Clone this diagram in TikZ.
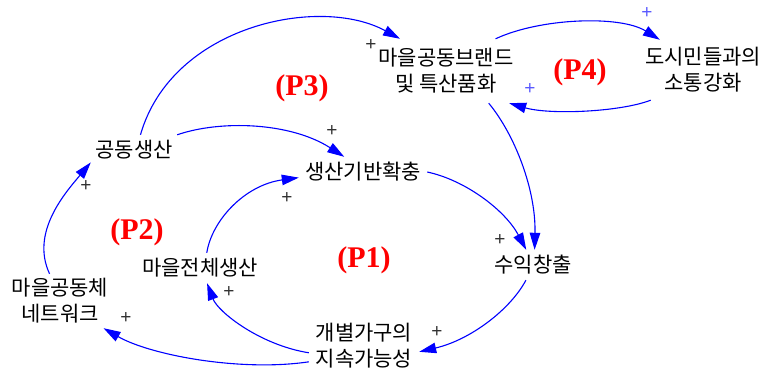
\documentclass[tikz,border=0pt]{standalone}
\usepackage{fontspec}
\setmainfont{Noto Sans CJK KR}
\newfontfamily\pfont{Liberation Serif}
\newfontfamily\plusfont{Liberation Sans}
\usetikzlibrary{arrows.meta}
\definecolor{arrblue}{RGB}{0,0,255}
\definecolor{plusgray}{RGB}{50,50,50}
\definecolor{plusblue}{RGB}{90,90,255}
\definecolor{loopred}{RGB}{255,0,0}
\begin{document}
\begin{tikzpicture}[x=1pt,y=-1pt,
  var/.style={inner sep=0pt, align=center, font=\fontsize{21}{26}\selectfont, text=black},
  link/.style={draw=arrblue, line width=1.1pt, -{Triangle[length=17pt,width=10.5pt]}},
  pol/.style={font=\plusfont\fontsize{19}{19}\selectfont, text=plusgray, inner sep=0pt},
  polb/.style={pol, text=plusblue},
  loopname/.style={font=\pfont\bfseries\fontsize{30}{30}\selectfont, text=loopred, inner sep=0pt}]
\useasboundingbox (0,0) rectangle (767,374);

\node[var, minimum width=150pt, minimum height=64pt] (brand) at (446,71) {마을공동브랜드\\및 특산품화};
\node[var, minimum width=128pt, minimum height=60pt] (citizen) at (703,70) {도시민들과의\\소통강화};
\node[var, minimum width=86pt, minimum height=30pt] (gongdong) at (134,150) {공동생산};
\node[var, minimum width=128pt, minimum height=30pt] (base) at (363,172) {생산기반확충};
\node[var, minimum width=86pt, minimum height=30pt] (revenue) at (533,265) {수익창출};
\node[var, minimum width=128pt, minimum height=30pt] (village) at (200,268) {마을전체생산};
\node[var, minimum width=106pt, minimum height=54pt] (network) at (60,301) {마을공동체\\네트워크};
\node[var, minimum width=110pt, minimum height=56pt] (household) at (364,346) {개별가구의\\지속가능성};

\draw[link] (gongdong.67) .. controls (172,25) and (320,-5) .. (brand.145);
\draw[link] (gongdong.north east) .. controls (220,120) and (290,122) .. (base.141);
\draw[link] (network.111) .. controls (30,232) and (66,192) .. (gongdong.196);
\draw[link] (village.66) .. controls (212,220) and (245,185) .. (base.185);
\draw[link] (household.187) .. controls (260,345) and (218,312) .. (village.295);
\draw[link] (household.196) .. controls (240,372) and (150,355) .. (network.328);
\draw[link] (base.east) .. controls (465,180) and (505,210) .. (revenue.114);
\draw[link] (brand.323) .. controls (515,135) and (536,190) .. (revenue.84);
\draw[link] (revenue.245) .. controls (510,310) and (470,340) .. (household.354);
\draw[link] (brand.33) .. controls (540,18) and (620,15) .. (citizen.145);
\draw[link] (citizen.210) .. controls (620,112) and (550,115) .. (brand.333);

\node[pol] (s1) at (371,45) {+};
\node[pol] (s2) at (332,131) {+};
\node[pol] (s3) at (86,186) {+};
\node[pol] (s4) at (287,198) {+};
\node[pol] (s5) at (229,292) {+};
\node[pol] (s6) at (126,318) {+};
\node[pol] (s7) at (500,240) {+};
\node[pol] (s8) at (437,332) {+};
\node[polb] (s9) at (647,13) {+};
\node[polb] (s10) at (530,89) {+};

\node[loopname] (L1) at (364,260) {(P1)};
\node[loopname] (L2) at (137,232) {(P2)};
\node[loopname] (L3) at (302,88) {(P3)};
\node[loopname] (L4) at (580,72) {(P4)};
\end{tikzpicture}
\end{document}
